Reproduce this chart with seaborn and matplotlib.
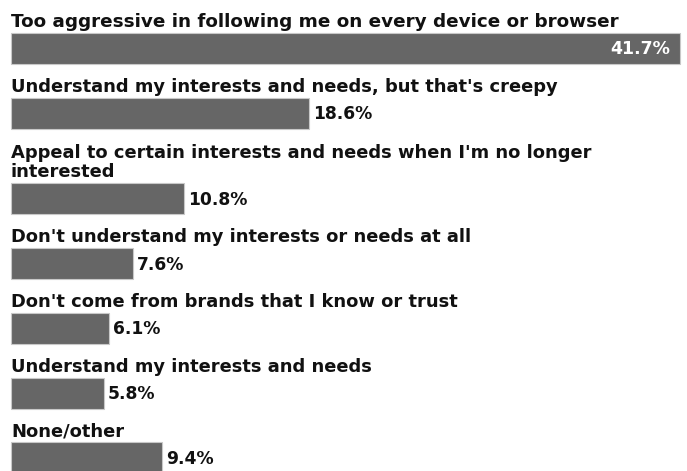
import matplotlib
matplotlib.use("Agg")
import matplotlib.pyplot as plt
import seaborn as sns
import pandas as pd

# --- data ---
labels = [
    "Too aggressive in following me on every device or browser",
    "Understand my interests and needs, but that's creepy",
    "Appeal to certain interests and needs when I'm no longer\ninterested",
    "Don't understand my interests or needs at all",
    "Don't come from brands that I know or trust",
    "Understand my interests and needs",
    "None/other",
]
values = [41.7, 18.6, 10.8, 7.6, 6.1, 5.8, 9.4]

# --- layout (pixel-ish coords, y grows downward) ---
W, H = 687, 471
px_per_pct = 16.04
left_px = 11
bar_h = 31
step = 64.7
extra_line = 21

tops = []
t = 33
for lab in labels:
    if tops:
        t += step + extra_line * (lab.count("\n"))
    tops.append(t)
centers = [tp + bar_h / 2 for tp in tops]

df = pd.DataFrame({"label": labels, "value": values, "pos": centers})

sns.set_style("white")
plt.rcParams["font.family"] = ["DejaVu Sans"]

fig = plt.figure(figsize=(W / 100, H / 100), dpi=100)
ax = fig.add_axes([0, 0, 1, 1])

sns.barplot(data=df, x="value", y="pos", orient="h", native_scale=True,
            color="#666666", saturation=1, edgecolor="#c8c8c8", linewidth=0.8,
            ax=ax)

# bars at fixed height, top edge at the computed position
for p, tp in zip(ax.patches, tops):
    p.set_y(tp)
    p.set_height(bar_h)

ax.set_xlim(-left_px / px_per_pct, (W - left_px) / px_per_pct)
ax.set_ylim(H, 0)
ax.axis("off")

for i, (lab, v, tp) in enumerate(zip(labels, values, tops)):
    ax.text(0, tp - 6, lab, ha="left", va="baseline",
            fontsize=13.2 if i == 0 else 12.9,
            fontweight="bold", color="#111111", linespacing=1.1)
    if i == 0:
        ax.text(v - 10 / px_per_pct, tp + bar_h / 2 + 1, f"{v}%", ha="right",
                va="center", fontsize=12.5, fontweight="bold", color="white")
    else:
        ax.text(v + 4 / px_per_pct, tp + bar_h / 2 + 1, f"{v}%", ha="left",
                va="center", fontsize=12.3, fontweight="bold", color="#111111")

fig.savefig("out.png", dpi=100)
